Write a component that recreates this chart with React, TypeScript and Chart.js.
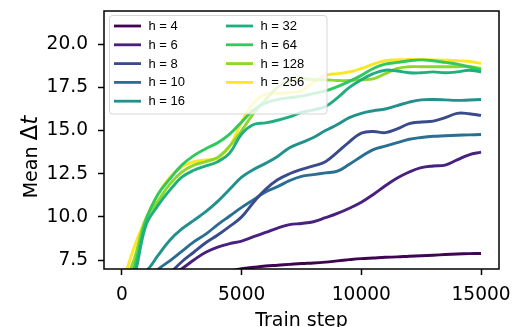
import React, { useEffect, useRef } from 'react';
import { Chart, registerables } from 'chart.js';

Chart.register(...registerables);

const steps = [0, 500, 1000, 1500, 2000, 2500, 3000, 3500, 4000, 4500, 5000, 5500, 6000, 6500, 7000, 7500, 8000, 8500, 9000, 9500, 10000, 10500, 11000, 11500, 12000, 12500, 13000, 13500, 14000, 14500, 15000];

const hLabels = ['h = 4', 'h = 6', 'h = 8', 'h = 10', 'h = 16', 'h = 32', 'h = 64', 'h = 128', 'h = 256'];

const h4 = [3.0, 3.8, 4.5, 5.0, 5.4, 5.8, 6.1, 6.4, 6.65, 6.85, 7.0, 7.08, 7.15, 7.2, 7.25, 7.3, 7.33, 7.38, 7.45, 7.52, 7.58, 7.62, 7.66, 7.68, 7.72, 7.75, 7.78, 7.82, 7.85, 7.87, 7.88];
const h6 = [4.0, 4.6, 5.2, 5.9, 6.6, 7.0, 7.5, 7.95, 8.25, 8.45, 8.6, 8.85, 9.1, 9.35, 9.55, 9.62, 9.72, 9.95, 10.2, 10.5, 10.85, 11.3, 11.8, 12.25, 12.6, 12.85, 12.95, 13.0, 13.3, 13.6, 13.75];
const h8 = [3.5, 4.3, 5.0, 5.8, 6.7, 7.4, 7.95, 8.5, 8.95, 9.45, 10.0, 10.85, 11.6, 12.15, 12.5, 12.75, 12.95, 13.2, 13.75, 14.35, 14.85, 14.95, 14.88, 15.1, 15.4, 15.5, 15.55, 15.75, 16.0, 15.98, 15.88];
const h10 = [4.6, 5.4, 6.2, 6.95, 7.45, 8.0, 8.55, 9.0, 9.55, 10.05, 10.55, 11.0, 11.45, 11.75, 12.1, 12.35, 12.45, 12.55, 12.65, 13.05, 13.5, 13.9, 14.1, 14.3, 14.5, 14.6, 14.67, 14.7, 14.73, 14.75, 14.77];
const h16 = [5.8, 6.5, 6.85, 7.75, 8.65, 9.3, 9.8, 10.3, 10.9, 11.6, 12.3, 12.75, 13.1, 13.5, 14.0, 14.3, 14.6, 15.0, 15.35, 15.75, 16.0, 16.15, 16.25, 16.45, 16.65, 16.78, 16.8, 16.78, 16.75, 16.77, 16.8];
const h32 = [5.0, 6.5, 9.5, 10.65, 11.55, 12.3, 12.7, 12.95, 13.2, 13.7, 14.8, 15.35, 15.45, 15.6, 15.8, 16.05, 16.2, 16.4, 16.9, 17.5, 17.95, 18.3, 18.5, 18.45, 18.35, 18.35, 18.4, 18.35, 18.4, 18.5, 18.4];
const h64 = [5.5, 7.0, 9.8, 11.3, 12.2, 13.0, 13.55, 13.95, 14.3, 14.8, 15.5, 16.2, 16.6, 16.8, 16.9, 17.0, 17.15, 17.3, 17.55, 17.85, 18.2, 18.6, 18.85, 18.95, 19.05, 19.1, 19.05, 18.95, 18.85, 18.7, 18.5];
const h128 = [5.8, 7.5, 9.9, 10.9, 11.9, 12.6, 13.0, 13.2, 13.45, 14.1, 15.0, 16.0, 16.8, 17.5, 17.9, 18.0, 17.95, 17.95, 17.9, 17.9, 17.95, 18.0, 18.3, 18.6, 18.7, 18.7, 18.7, 18.7, 18.7, 18.7, 18.6];
const h256 = [6.0, 8.2, 9.9, 11.3, 12.3, 12.9, 13.2, 13.3, 13.4, 14.1, 15.5, 16.6, 17.1, 17.15, 17.2, 17.3, 17.8, 18.2, 18.3, 18.4, 18.6, 18.85, 19.05, 19.1, 19.12, 19.12, 19.1, 19.08, 19.05, 19.0, 18.9];

const seriesValues = [h4, h6, h8, h10, h16, h32, h64, h128, h256];
const seriesColors = ['#3f0550', '#48207f', '#3a4b8c', '#2a6e93', '#22918c', '#1fae7e', '#2fc95e', '#8cd82a', '#fde725'];

const xTicks = [0, 5000, 10000, 15000];
const yTicks = [7.5, 10.0, 12.5, 15.0, 17.5, 20.0];

const xLabel = 'Train step';
const yLabelWord = 'Mean ';
const yLabelDelta = 'Δ';
const yLabelVar = 't';

const TICK_FONT = "'DejaVu Sans'";
const LEGEND_FONT = "'Liberation Sans', Arial";

const decorPlugin = {
  id: 'mplDecor',
  afterDatasetsDraw(chart: any) {
    const ctx = chart.ctx as CanvasRenderingContext2D;
    const { left, top, right, bottom } = chart.chartArea;
    ctx.save();
    // spines
    ctx.strokeStyle = '#000';
    ctx.lineWidth = 1.5;
    ctx.strokeRect(left, top, right - left, bottom - top);

    // legend box
    const bx = 109.5, by = 15.5, bw = 217.5, bh = 98.5, r = 3;
    ctx.beginPath();
    ctx.moveTo(bx + r, by);
    ctx.lineTo(bx + bw - r, by);
    ctx.arcTo(bx + bw, by, bx + bw, by + r, r);
    ctx.lineTo(bx + bw, by + bh - r);
    ctx.arcTo(bx + bw, by + bh, bx + bw - r, by + bh, r);
    ctx.lineTo(bx + r, by + bh);
    ctx.arcTo(bx, by + bh, bx, by + bh - r, r);
    ctx.lineTo(bx, by + r);
    ctx.arcTo(bx, by, bx + r, by, r);
    ctx.closePath();
    ctx.fillStyle = 'rgba(255,255,255,0.8)';
    ctx.fill();
    ctx.strokeStyle = 'rgba(204,204,204,0.8)';
    ctx.lineWidth = 1;
    ctx.stroke();

    const colHandleX = [114, 226];
    const colTextX = [148.5, 260.5];
    const rowY0 = 26, rowDy = 18.8, perCol = 5;
    ctx.font = `13px ${LEGEND_FONT}`;
    ctx.textBaseline = 'middle';
    ctx.textAlign = 'left';
    chart.data.datasets.forEach((ds: any, i: number) => {
      const col = Math.floor(i / perCol);
      const row = i % perCol;
      const y = rowY0 + row * rowDy;
      ctx.strokeStyle = ds.borderColor;
      ctx.lineWidth = 2.8;
      ctx.lineCap = 'butt';
      ctx.beginPath();
      ctx.moveTo(colHandleX[col], y);
      ctx.lineTo(colHandleX[col] + 27, y);
      ctx.stroke();
      ctx.fillStyle = '#000';
      ctx.fillText(ds.label, colTextX[col], y + 0.5);
    });
    ctx.restore();
  },
  afterDraw(chart: any) {
    const ctx = chart.ctx as CanvasRenderingContext2D;
    const { left, right } = chart.chartArea;
    ctx.save();
    ctx.fillStyle = '#000';
    // x label
    ctx.font = `19px ${TICK_FONT}`;
    ctx.textAlign = 'center';
    ctx.textBaseline = 'alphabetic';
    ctx.fillText(xLabel, (left + right) / 2, 325.5);
    // y label (rotated)
    ctx.translate(37, 157);
    ctx.rotate(-Math.PI / 2);
    const f1 = `19px ${TICK_FONT}`;
    const f2 = `23px ${TICK_FONT}`;
    const f3 = `italic 23px ${TICK_FONT}`;
    ctx.font = f1; const w1 = ctx.measureText(yLabelWord).width;
    ctx.font = f2; const w2 = ctx.measureText(yLabelDelta).width;
    ctx.font = f3; const w3 = ctx.measureText(yLabelVar).width;
    let x = -(w1 + w2 + w3) / 2;
    ctx.textAlign = 'left';
    ctx.font = f1; ctx.fillText(yLabelWord, x, 0); x += w1;
    ctx.font = f2; ctx.fillText(yLabelDelta, x, 0); x += w2;
    ctx.font = f3; ctx.fillText(yLabelVar, x, 0);
    ctx.restore();
  },
};

export default function App() {
  const canvasRef = useRef<HTMLCanvasElement | null>(null);

  useEffect(() => {
    document.body.style.margin = '0';
    const canvas = canvasRef.current;
    if (!canvas) return;
    const datasets = seriesValues.map((vals, i) => ({
      label: hLabels[i],
      data: steps.map((s, j) => ({ x: s, y: vals[j] })),
      borderColor: seriesColors[i],
      backgroundColor: seriesColors[i],
      borderWidth: 2.9,
      pointRadius: 0,
      tension: 0.4,
      fill: false,
    }));
    const chart = new Chart(canvas, {
      type: 'line',
      data: { datasets },
      plugins: [decorPlugin],
      options: {
        animation: false,
        responsive: false,
        devicePixelRatio: 1,
        layout: { padding: { top: 11, right: 13, left: 0, bottom: 0 } },
        plugins: { legend: { display: false }, tooltip: { enabled: false } },
        scales: {
          x: {
            type: 'linear',
            min: -750,
            max: 15750,
            afterBuildTicks: (scale: any) => { scale.ticks = xTicks.map((v) => ({ value: v })); },
            afterFit: (scale: any) => { scale.height = 58; scale.paddingLeft = 0; scale.paddingRight = 0; },
            grid: { display: true, drawOnChartArea: false, drawTicks: true, tickLength: 6, tickColor: '#000', tickWidth: 1.5 },
            border: { display: false },
            ticks: {
              autoSkip: false, maxRotation: 0, minRotation: 0, padding: 9, color: '#000',
              font: { family: TICK_FONT, size: 18.6 },
              callback: (v: any) => String(v),
            },
          },
          y: {
            type: 'linear',
            min: 6.98,
            max: 21.93,
            afterBuildTicks: (scale: any) => { scale.ticks = yTicks.map((v) => ({ value: v })); },
            afterFit: (scale: any) => { scale.width = 104; scale.paddingTop = 0; scale.paddingBottom = 0; },
            grid: { display: true, drawOnChartArea: false, drawTicks: true, tickLength: 6, tickColor: '#000', tickWidth: 1.5 },
            border: { display: false },
            ticks: {
              padding: 10, color: '#000',
              font: { family: TICK_FONT, size: 18.6 },
              callback: (v: any) => Number(v).toFixed(1),
            },
          },
        },
      },
    });
    return () => chart.destroy();
  }, []);

  return (
    <div style={{ position: 'absolute', left: 0, top: 0, width: 512, height: 327, background: '#fff' }}>
      <canvas ref={canvasRef} width={512} height={327} style={{ display: 'block' }} />
    </div>
  );
}
